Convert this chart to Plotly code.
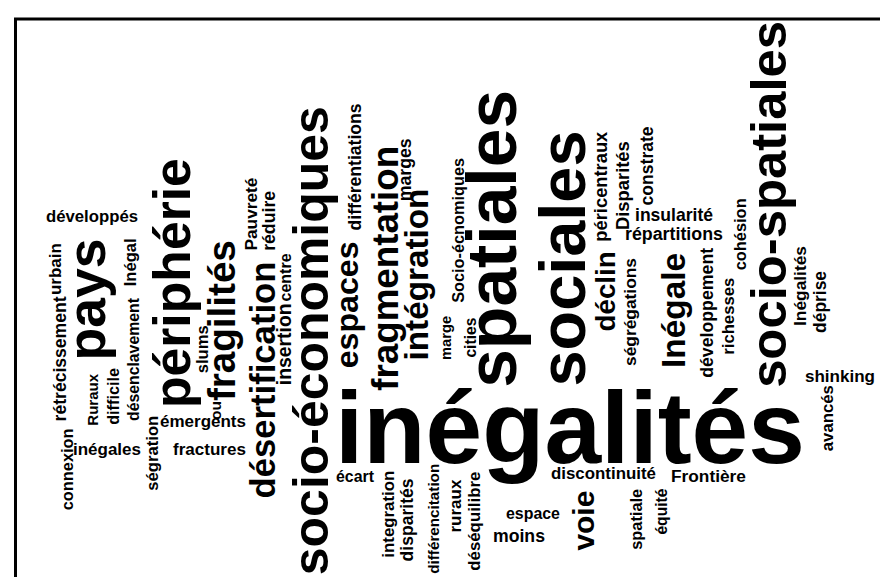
import unicodedata
import plotly.graph_objects as go

# ---- data: words of the cloud ----
words = ["développés", "urbain", "pays", "rétrécissement", "connexion", "Ruraux", "difficile",
         "désenclavement", "Inégal", "inégales", "ségration", "émergents", "fractures", "slums", "ou",
         "fragilités", "périphérie", "Pauvreté", "réduire", "centre", "insertion", "désertification",
         "socio-économiques", "différentiations", "espaces", "fragmentation", "marges", "intégration",
         "Socio-écnomiques", "marge", "cities", "spatiales", "sociales", "péricentraux", "déclin",
         "Disparités", "constrate", "insularité", "répartitions", "cohésion", "socio-spatiales",
         "ségrégations", "Inégale", "développement", "richesses", "Inégalités", "déprise", "shinking",
         "avancés", "inégalités", "écart", "integration", "disparités", "différencitation", "ruraux",
         "déséquilibre", "espace", "moins", "voie", "discontinuité", "Frontière", "spatiale", "équité"]

# orientation: 0 = horizontal, 1 = vertical (read bottom to top)
vertical = [0, 1, 1, 1, 1, 1, 1,
            1, 1, 0, 1, 0, 0, 1, 1,
            1, 1, 1, 1, 1, 1, 1,
            1, 1, 1, 1, 1, 1,
            1, 1, 1, 1, 1, 1, 1,
            1, 1, 0, 0, 1, 1,
            1, 1, 1, 1, 1, 1, 0,
            1, 0, 0, 1, 1, 1, 1,
            1, 0, 0, 1, 0, 0, 1, 1]

# extent along the text direction (start, end) and baseline position (pixels)
span_start = [38, 235, 230, 288, 420, 365, 360,
              290, 230, 65, 408, 152, 165, 317, 393,
              232, 150, 170, 183, 245, 295, 253,
              98, 95, 233, 138, 130, 180,
              150, 308, 310, 82, 122, 123, 243,
              133, 118, 627, 617, 190, 13,
              250, 245, 240, 270, 238, 263, 797,
              377, 327, 328, 463, 470, 456, 472,
              464, 498, 485, 483, 543, 663, 481, 481]
span_end = [130, 287, 352, 413, 502, 417, 417,
            413, 278, 133, 483, 238, 238, 365, 412,
            393, 400, 243, 243, 293, 377, 490,
            567, 222, 360, 383, 193, 352,
            295, 352, 350, 380, 378, 233, 323,
            222, 197, 705, 715, 262, 380,
            358, 360, 370, 347, 318, 325, 867,
            443, 797, 366, 550, 553, 566, 525,
            563, 552, 537, 543, 648, 738, 542, 527]
baseline = [214, 53, 97, 58, 65, 89, 110,
            131, 128, 447, 150, 419, 447, 200, 213,
            227, 182, 248, 267, 283, 283, 267,
            320, 353, 350, 390, 403, 420,
            455, 443, 467, 508, 577, 598, 607,
            621, 645, 213, 232, 738, 778,
            628, 677, 705, 726, 798, 818, 374,
            825, 455, 474, 386, 405, 430, 453,
            472, 511, 534, 585, 471, 474, 633, 658]

# ---- styling helpers ----
FONT = "Liberation Sans"
ADV = {'a': 556, 'b': 611, 'c': 556, 'd': 611, 'e': 556, 'f': 333, 'g': 611, 'h': 611, 'i': 278,
       'j': 278, 'k': 556, 'l': 278, 'm': 889, 'n': 611, 'o': 611, 'p': 611, 'q': 611, 'r': 389,
       's': 556, 't': 333, 'u': 611, 'v': 556, 'w': 778, 'x': 556, 'y': 556, 'z': 500, '-': 333,
       'D': 722, 'F': 611, 'I': 278, 'P': 667, 'R': 722, 'S': 667}


def em_width(w):
    tot = 0
    for ch in w:
        base = unicodedata.normalize('NFD', ch)[0]
        tot += ADV.get(base, 580)
    return tot / 1000.0


fig = go.Figure()
fig.add_trace(go.Scatter(x=[0, 888], y=[0, 577], mode="markers", marker=dict(opacity=0),
                         hoverinfo="skip", showlegend=False))

for w, v, s0, s1, b in zip(words, vertical, span_start, span_end, baseline):
    length = s1 - s0
    size = length / em_width(w)
    mid = (s0 + s1) / 2
    off = b - 0.347 * size
    if v:
        x, y, ang = off, mid, -90
    else:
        x, y, ang = mid, off, 0
    fig.add_annotation(x=x, y=y, xref="x", yref="y", text=w, showarrow=False,
                       textangle=ang, xanchor="center", yanchor="middle", borderpad=0,
                       font=dict(family=FONT, size=size, color="black", weight="bold"))

# frame lines (top and left edges)
fig.add_shape(type="line", x0=7.5, y0=577, x1=7.5, y1=11, xref="x", yref="y",
              line=dict(color="black", width=3))
fig.add_shape(type="line", x0=6, y0=11, x1=888, y1=11, xref="x", yref="y",
              line=dict(color="black", width=3))

fig.update_layout(width=888, height=577, autosize=False,
                  margin=dict(l=0, r=0, t=0, b=0),
                  paper_bgcolor="white", plot_bgcolor="white",
                  xaxis=dict(range=[0, 888], visible=False, fixedrange=True),
                  yaxis=dict(range=[577, 0], visible=False, fixedrange=True),
                  showlegend=False)

fig.write_html("out.html")
